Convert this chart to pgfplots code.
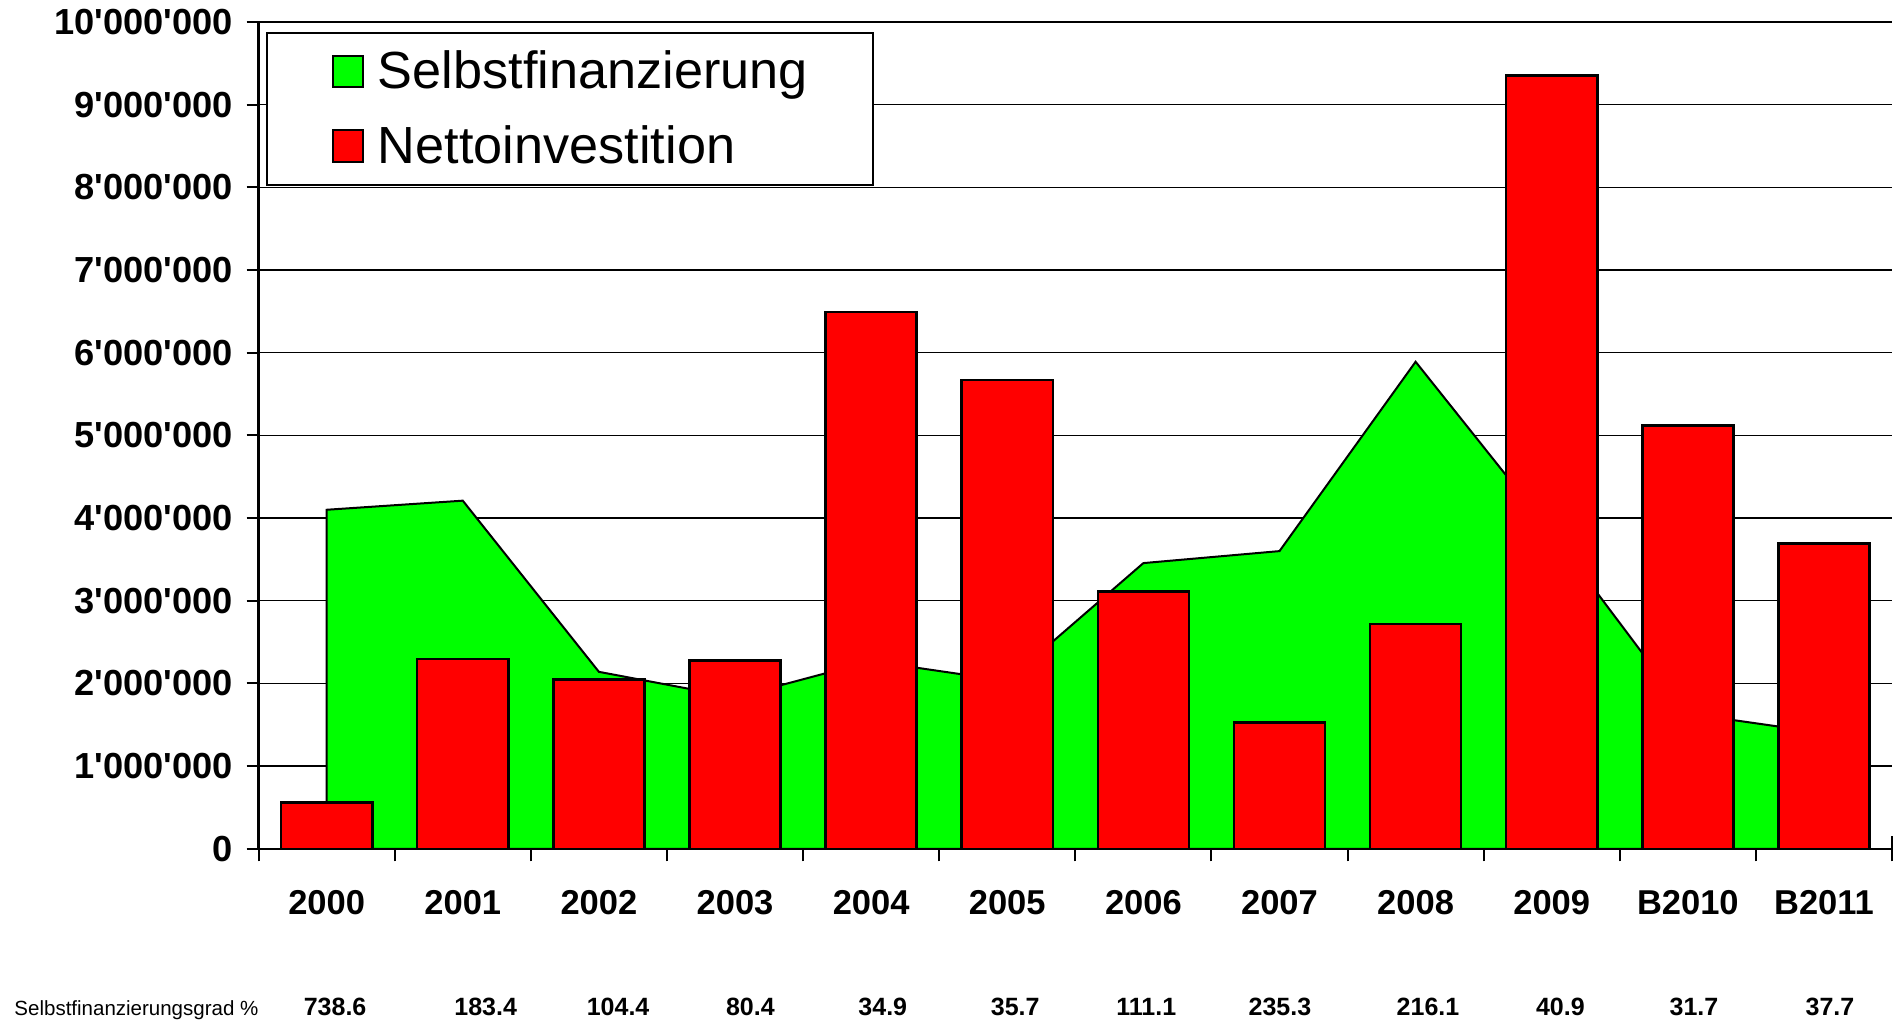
\documentclass[border=0pt]{standalone}
\usepackage{pgfplots}
\pgfplotsset{compat=1.18}
\usepackage{fontspec}
\setmainfont{Liberation Sans}[Ligatures=TeXOff]
\definecolor{sfgreen}{RGB}{0,255,0}
\definecolor{nired}{RGB}{255,0,0}
\pgfplotsset{mylegend/.style={legend image code/.code={\draw[##1, draw=black, line width=0.8pt] (0pt,-6.35pt) rectangle (12pt,6.35pt);}}}
\begin{document}
\begin{tikzpicture}
\useasboundingbox (0,0) rectangle (761.6pt,408.8pt);
\begin{axis}[
  at={(103.44pt,69.28pt)}, anchor=south west,
  scale only axis, width=653.36pt, height=330.76pt,
  xmin=-0.5, xmax=11.5, ymin=0, ymax=10000000,
  axis x line=bottom, axis y line=left,
  axis line style={-, black, line width=1pt},
  xtick={0,1,2,3,4,5,6,7,8,9,10,11},
  xticklabels={2000,2001,2002,2003,2004,2005,2006,2007,2008,2009,B2010,B2011},
  minor xtick={-0.5,0.5,1.5,2.5,3.5,4.5,5.5,6.5,7.5,8.5,9.5,10.5,11.5},
  major x tick style={draw=none},
  minor x tick style={black, line width=0.8pt},
  minor tick length=10pt,
  xtick align=center,
  ytick={0,1000000,2000000,3000000,4000000,5000000,6000000,7000000,8000000,9000000,10000000},
  yticklabels={0,1'000'000,2'000'000,3'000'000,4'000'000,5'000'000,6'000'000,7'000'000,8'000'000,9'000'000,10'000'000},
  scaled y ticks=false,
  ytick align=outside,
  major tick length=4.8pt,
  y tick style={black, line width=0.8pt},
  ymajorgrids, grid style={black, line width=0.6pt},
  xticklabel style={font=\fontsize{13.8pt}{16pt}\selectfont\bfseries, anchor=north, inner sep=0pt, yshift=-14pt},
  yticklabel style={font=\fontsize{14.5pt}{17pt}\selectfont\bfseries, anchor=east, inner sep=0pt, xshift=-5.2pt},
  legend style={at={(0.0045,0.9878)}, anchor=north west, draw=black, line width=0.8pt, fill=white,
    inner xsep=26pt, inner ysep=7.07pt, row sep=13.3pt,
    font=\fontsize{20.9pt}{25pt}\selectfont,
    nodes={inner sep=0pt},
    /tikz/every odd column/.append style={column sep=5.6pt}},
  legend cell align=left,
  mylegend,
]
\addplot[fill=sfgreen, draw=black, line width=0.8pt, mylegend] coordinates {
 (0,4100000) (1,4210000) (2,2140000) (3,1830000) (4,2270000) (5,2030000)
 (6,3455000) (7,3600000) (8,5890000) (9,3825000) (10,1635000) (11,1400000)
} \closedcycle;
\addlegendentry{Selbstfinanzierung}
\addplot[ybar, bar width=0.67, fill=nired, draw=black, line width=1pt, mylegend] coordinates {
 (0,557000) (1,2295000) (2,2050000) (3,2280000) (4,6490000) (5,5670000)
 (6,3110000) (7,1530000) (8,2720000) (9,9350000) (10,5120000) (11,3690000)
};
\addlegendentry{Nettoinvestition}
\end{axis}
\node[anchor=base west, inner sep=0pt, font=\fontsize{8.2pt}{10pt}\selectfont] at (5.6pt,2.7pt) {Selbstfinanzierungsgrad \%};
\foreach \x/\t in {335.1/738.6, 485.7/183.4, 618.1/104.4, 750.4/80.4, 882.8/34.9, 1015.2/35.7, 1146.3/111.1, 1279.9/235.3, 1428.0/216.1, 1560.4/40.9, 1694.0/31.7, 1830.0/37.7}
  \node[anchor=base, inner sep=0pt, font=\fontsize{10pt}{12pt}\selectfont\bfseries] at ({\x*0.4pt},2.7pt) {\t};
\end{tikzpicture}
\end{document}
